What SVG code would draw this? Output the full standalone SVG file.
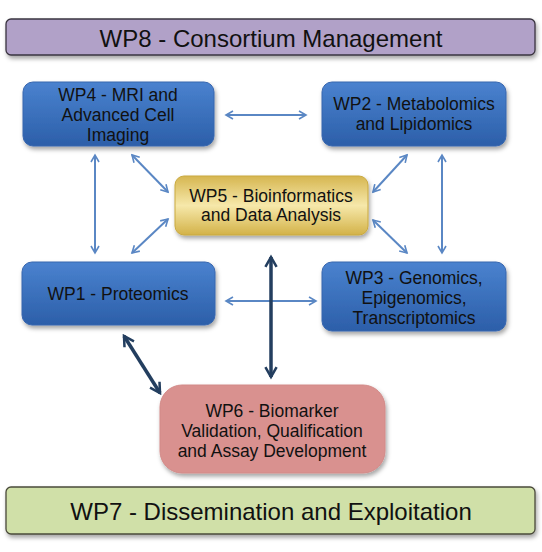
<svg xmlns="http://www.w3.org/2000/svg" width="542" height="552" viewBox="0 0 542 552">
<defs>
<linearGradient id="blue" x1="0" y1="0" x2="0" y2="1">
<stop offset="0" stop-color="#4a82cf"/>
<stop offset="1" stop-color="#2c5fa9"/>
</linearGradient>
<linearGradient id="gold" x1="0" y1="0" x2="0" y2="1">
<stop offset="0" stop-color="#d6b650"/>
<stop offset="0.5" stop-color="#f6e8aa"/>
<stop offset="1" stop-color="#d3b248"/>
</linearGradient>
<filter id="sh" x="-10%" y="-10%" width="125%" height="135%">
<feDropShadow dx="1.5" dy="3" stdDeviation="2" flood-color="#000" flood-opacity="0.35"/>
</filter>
<marker id="ml" viewBox="0 0 10 10" refX="8" refY="5" markerWidth="5" markerHeight="5" orient="auto-start-reverse" markerUnits="strokeWidth">
<path d="M1,1 L8,5 L1,9" fill="none" stroke="#5a87c4" stroke-width="1.6"/>
</marker>
<marker id="md" viewBox="0 0 10 10" refX="8" refY="5" markerWidth="4" markerHeight="4" orient="auto-start-reverse" markerUnits="strokeWidth">
<path d="M1,1 L8,5 L1,9" fill="none" stroke="#233e5f" stroke-width="1.8"/>
</marker>
<style>
text{font-family:"Liberation Sans",Arial,sans-serif;fill:#111;text-anchor:middle}
.bx{font-size:17.5px}
.bar{font-size:24px}
.bl{fill:url(#blue);stroke:#3766ae;stroke-width:1}
.la{stroke:#5a87c4;stroke-width:2;fill:none;marker-start:url(#ml);marker-end:url(#ml)}
.da{stroke:#233e5f;stroke-width:3.5;fill:none;marker-start:url(#md);marker-end:url(#md)}
</style>
</defs>
<rect width="542" height="552" fill="#fff"/>
<g id="wp8">
<rect x="6" y="19" width="529" height="36" rx="5" fill="#b1a1c8" stroke="#3a3440" stroke-width="1.3" filter="url(#sh)"/>
<text class="bar" x="271" y="47">WP8 - Consortium Management</text>
</g>
<g id="wp7">
<rect x="6" y="487" width="529" height="47" rx="5" fill="#d0e0a8" stroke="#4a4a3a" stroke-width="1.3" filter="url(#sh)"/>
<text class="bar" x="271" y="520">WP7 - Dissemination and Exploitation</text>
</g>
<g id="connectors">
<line class="la" x1="226" y1="115" x2="306" y2="115"/>
<line class="la" x1="95" y1="155" x2="95" y2="253"/>
<line class="la" x1="442" y1="155" x2="442" y2="253"/>
<line class="la" x1="132" y1="155" x2="168" y2="192"/>
<line class="la" x1="132" y1="253" x2="168" y2="219"/>
<line class="la" x1="407" y1="155" x2="373" y2="192"/>
<line class="la" x1="373" y1="220" x2="407" y2="253"/>
<line class="la" x1="226" y1="301" x2="316" y2="301"/>
<line class="da" x1="271" y1="257" x2="271" y2="377"/>
<line class="da" x1="124" y1="336" x2="160" y2="393"/>
</g>
<g id="wp4">
<rect class="bl" x="23" y="82" width="191" height="64" rx="10" filter="url(#sh)"/>
<text class="bx" x="118" y="101">WP4 - MRI and</text>
<text class="bx" x="118" y="121">Advanced Cell</text>
<text class="bx" x="118" y="141">Imaging</text>
</g>
<g id="wp2">
<rect class="bl" x="322" y="82" width="184" height="64" rx="10" filter="url(#sh)"/>
<text class="bx" x="414" y="110">WP2 - Metabolomics</text>
<text class="bx" x="414" y="130">and Lipidomics</text>
</g>
<g id="wp5">
<rect x="175" y="176" width="193" height="59" rx="9" fill="url(#gold)" stroke="#c9a93f" stroke-width="1" filter="url(#sh)"/>
<text class="bx" x="271" y="202">WP5 - Bioinformatics</text>
<text class="bx" x="271" y="221">and Data Analysis</text>
</g>
<g id="wp1">
<rect class="bl" x="22" y="262" width="193" height="63" rx="10" filter="url(#sh)"/>
<text class="bx" x="118" y="300">WP1 - Proteomics</text>
</g>
<g id="wp3">
<rect class="bl" x="322" y="262" width="184" height="69" rx="10" filter="url(#sh)"/>
<text class="bx" x="414" y="284">WP3 - Genomics,</text>
<text class="bx" x="414" y="304">Epigenomics,</text>
<text class="bx" x="414" y="324">Transcriptomics</text>
</g>
<g id="wp6">
<rect x="160" y="385" width="225" height="88" rx="22" fill="#d9918f" stroke="#d28a88" stroke-width="1" filter="url(#sh)"/>
<text class="bx" x="272" y="417">WP6 - Biomarker</text>
<text class="bx" x="272" y="437">Validation, Qualification</text>
<text class="bx" x="272" y="457">and Assay Development</text>
</g>
</svg>
